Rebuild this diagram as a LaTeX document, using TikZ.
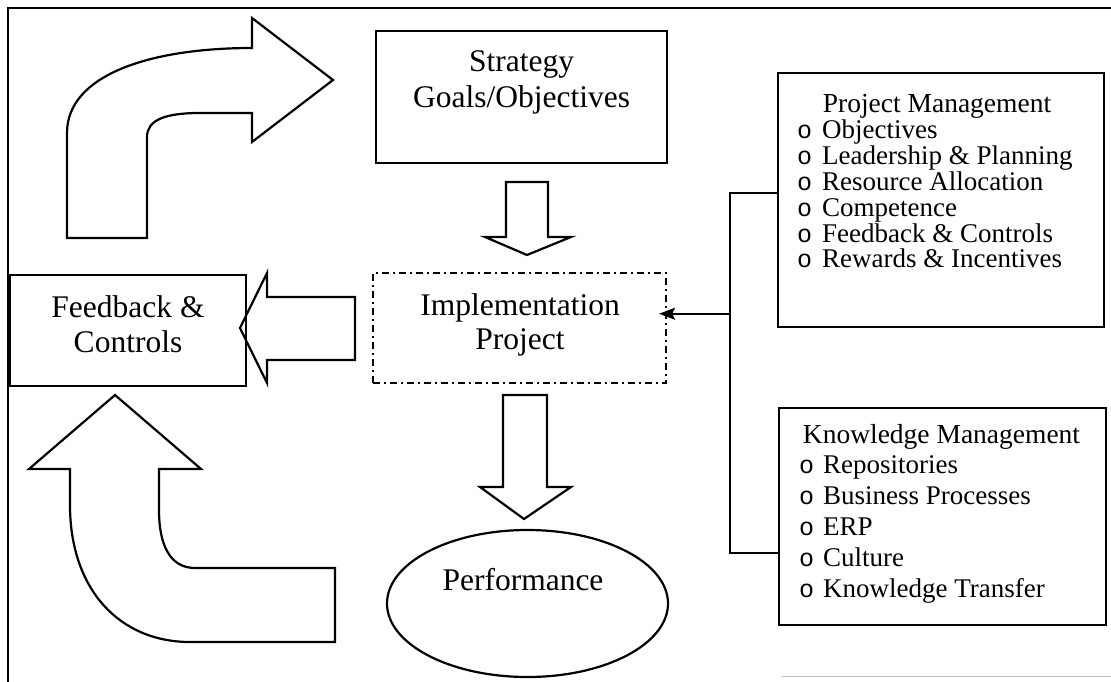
\documentclass[tikz,border=0pt]{standalone}
\usepackage{fontspec}
\setmainfont{Liberation Serif}
\newfontfamily\bulletfont{Liberation Mono}
\usetikzlibrary{arrows.meta,calc,shapes.geometric}
\begin{document}
\begin{tikzpicture}[x=1pt,y=-1pt,
  blockarrow/.style={draw=black,line width=2.2pt,line join=miter},
  plainbox/.style={draw=black,line width=2.2pt,inner sep=0pt},
  dashbox/.style={draw=black,line width=2.2pt,inner sep=0pt,
    dash pattern=on 7pt off 4pt on 2pt off 4pt},
  bigtext/.style={inner sep=0pt,anchor=base,font=\fontsize{31.5}{37}\selectfont},
  smalltext/.style={inner sep=0pt,anchor=base west,font=\fontsize{27}{27}\selectfont},
  titletext/.style={inner sep=0pt,anchor=base,font=\fontsize{27.5}{27}\selectfont},
  bulletmark/.style={inner sep=0pt,anchor=base west,font=\bulletfont\fontsize{25}{27}\selectfont},
  link/.style={draw=black,line width=2pt},
]
\useasboundingbox (0,0) rectangle (1111,682);

% outer frame
\draw[line width=2pt] (8,682) -- (8,8) -- (1111,8);
\draw[black!25,line width=1pt] (782,676) -- (1111,676);

% boxes
\node[plainbox,minimum width=291pt,minimum height=132pt] (strategy) at (521.5,97) {};
\node[plainbox,minimum width=236pt,minimum height=111pt] (feedback) at (128,330.5) {};
\node[dashbox,minimum width=293pt,minimum height=110pt] (impl) at (519.5,328) {};
\node[plainbox,ellipse,minimum width=281pt,minimum height=147pt] (perf) at (527.5,603.5) {};
\node[plainbox,minimum width=326pt,minimum height=254pt] (pm) at (941,200) {};
\node[plainbox,minimum width=327pt,minimum height=217pt] (km) at (942.5,516.5) {};

% box texts
\node[bigtext] (strategyA) at (521.5,72) {Strategy};
\node[bigtext] (strategyB) at (521.5,108) {Goals/Objectives};
\node[bigtext] (feedbackA) at (128,317) {Feedback \&};
\node[bigtext] (feedbackB) at (128,352) {Controls};
\node[bigtext] (implA) at (520,315) {Implementation};
\node[bigtext] (implB) at (520,349) {Project};
\node[bigtext] (perfA) at (523,590) {Performance};

% project management list
\node[titletext] (pmtitle) at (937,113) {Project Management};
\foreach \txt [count=\i] in {Objectives,Leadership \& Planning,Resource Allocation,Competence,Feedback \& Controls,Rewards \& Incentives}{
  \node[bulletmark] (pmb\i) at (797,113+25.8*\i) {o};
  \node[smalltext] (pmi\i) at (822,113+25.8*\i) {\txt};
}

% knowledge management list
\node[titletext] (kmtitle) at (941.5,443) {Knowledge Management};
\foreach \txt [count=\i] in {Repositories,Business Processes,ERP,Culture,Knowledge Transfer}{
  \node[bulletmark] (kmb\i) at (799,443+30.8*\i) {o};
  \node[smalltext] (kmi\i) at (823,443+30.8*\i) {\txt};
}

% connector from the two management boxes into the project
\coordinate (bus) at (730,0);
\coordinate (pmport) at ($(pm.north west)!0.472!(pm.south west)$);
\coordinate (kmport) at ($(km.north west)!0.665!(km.south west)$);
\coordinate (implport) at ($(impl.north east)!0.373!(impl.south east)$);
\draw[link] (pmport) -- (pmport -| bus) -- (kmport -| bus) -- (kmport);
\draw[link,-{Stealth[length=16pt,width=12pt,inset=3pt]},shorten >=-8pt]
  (implport -| bus) -- (implport);

% curved arrow up into the strategy
\draw[blockarrow] (67,238) -- (147,238) -- (147,137)
  .. controls (147,120) and (165,113) .. (200,113) -- (252,113)
  -- (252,142) -- (333,80) -- (252,18) -- (252,48)
  .. controls (150,48) and (67,75) .. (67,133) -- cycle;

% curved arrow up into feedback & controls
\draw[blockarrow] (335,568) -- (195,568)
  .. controls (170,568) and (159,545) .. (159,510) -- (159,469)
  -- (201,469) -- (115,395) -- (29,469) -- (70,469) -- (70,505)
  .. controls (70,590) and (120,642) .. (190,642) -- (335,642) -- cycle;

% block arrow from project to feedback & controls
\draw[blockarrow] (355,297) -- (267,297) -- (267,273) -- (240,328)
  -- (267,383) -- (267,360) -- (355,360) -- cycle;

% block arrow from strategy to project
\draw[blockarrow] (506,182) -- (548,182) -- (548,237) -- (571,237)
  -- (527,255) -- (485,237) -- (506,237) -- cycle;

% block arrow from project to performance
\draw[blockarrow] (503,395) -- (547,395) -- (547,487) -- (571,487)
  -- (524,519) -- (480,487) -- (503,487) -- cycle;
\end{tikzpicture}
\end{document}
